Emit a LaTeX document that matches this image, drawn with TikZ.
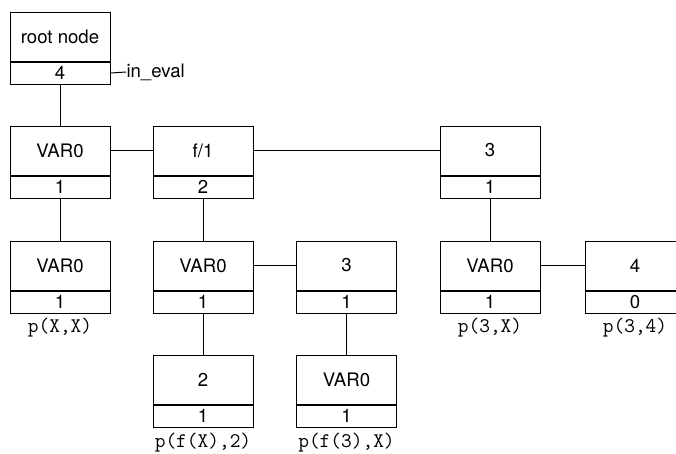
\documentclass[tikz,border=0pt]{standalone}
\usepackage{fontspec}
\setmainfont{TeX Gyre Heros}
\begin{document}
\begin{tikzpicture}[x=1pt,y=-1pt,line width=1pt,
  toppart/.style={draw,rectangle,minimum width=100pt,minimum height=49pt,inner sep=0pt,font=\fontsize{18.6}{21}\selectfont},
  botpart/.style={draw,rectangle,minimum width=100pt,minimum height=22pt,inner sep=0pt,anchor=north,font=\fontsize{18.6}{21}\selectfont},
  lbl/.style={anchor=base,inner sep=0pt,font=\fontsize{20.8}{23}\ttfamily},
  conn/.style={line width=1pt}]
\useasboundingbox (0,0) rectangle (676,453);
\clip (0,0) rectangle (676,453);
\newcommand{\mybox}[5]{%
  \node[toppart] (#1) at (#2,#3) {#4};
  \node[botpart] (#1b) at (#1.south) {#5};}
% root
\mybox{root}{60}{36.5}{root node}{4}
\node[anchor=west,inner sep=0pt,font=\fontsize{18.6}{21}\selectfont] (ineval) at (126,72) {in\_eval};
% row 1
\mybox{a}{60}{150.5}{VAR0}{1}
\mybox{f}{203}{150.5}{f/1}{2}
\mybox{t}{490}{150.5}{3}{1}
% row 2
\mybox{b}{60}{265.5}{VAR0}{1}
\mybox{c}{203}{265.5}{VAR0}{1}
\mybox{d}{346.5}{265.5}{3}{1}
\mybox{e}{490}{265.5}{VAR0}{1}
\mybox{g}{635}{265.5}{4}{0}
% row 3
\mybox{h}{203}{379.5}{2}{1}
\mybox{k}{346.5}{379.5}{VAR0}{1}
% labels
\node[lbl] (lb) at (60,332) {p(X,X)};
\node[lbl] (le) at (490,332) {p(3,X)};
\node[lbl] (lg) at (635,332) {p(3,4)};
\node[lbl] (lh) at (203,447) {p(f(X),2)};
\node[lbl] (lk) at (346.5,447) {p(f(3),X)};
% connectors
\draw[conn] (rootb.east) -- (ineval.west);
\draw[conn] (rootb.south) -- (a.north);
\draw[conn] (a.east) -- (f.west);
\draw[conn] (f.east) -- (t.west);
\draw[conn] (ab.south) -- (b.north);
\draw[conn] (fb.south) -- (c.north);
\draw[conn] (tb.south) -- (e.north);
\draw[conn] (c.east) -- (d.west);
\draw[conn] (e.east) -- (g.west);
\draw[conn] (cb.south) -- (h.north);
\draw[conn] (db.south) -- (k.north);
\end{tikzpicture}
\end{document}
